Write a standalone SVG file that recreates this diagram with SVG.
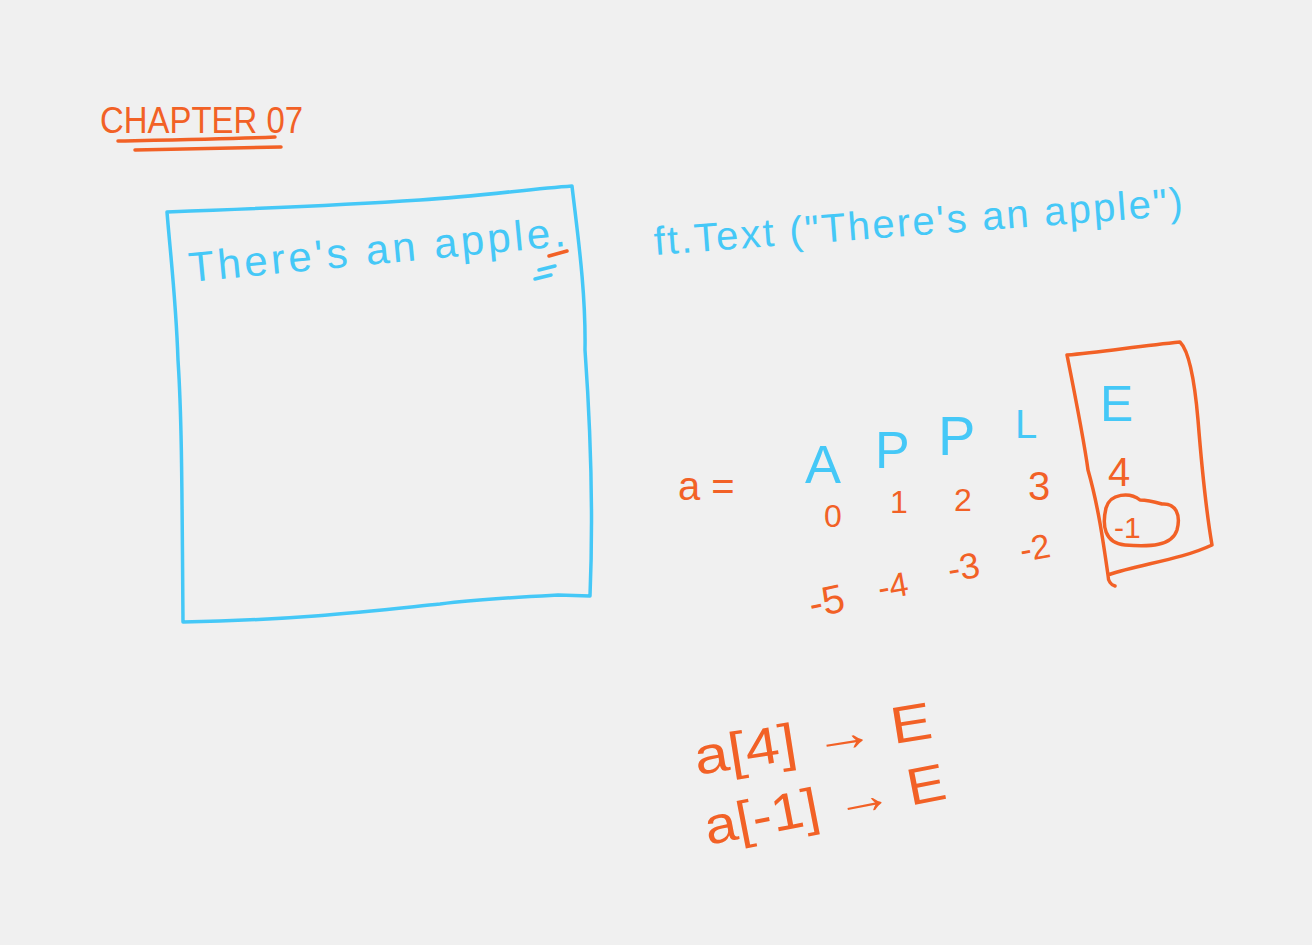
<svg xmlns="http://www.w3.org/2000/svg" width="1312" height="945" viewBox="0 0 1312 945">
<style>
.o{fill:#f26126}
.b{fill:#45c8f7}
.t{font-family:"Liberation Sans","DejaVu Sans",sans-serif}
.so{fill:none;stroke:#f26126;stroke-width:3.5;stroke-linecap:round;stroke-linejoin:round}
.sb{fill:none;stroke:#45c8f7;stroke-width:3.5;stroke-linecap:round;stroke-linejoin:round}
</style>
<rect width="1312" height="945" fill="#f0f0f0"/>
<g id="title">
<text class="t o" x="100" y="133" font-size="36" textLength="203" lengthAdjust="spacingAndGlyphs">CHAPTER 07</text>
<path class="so" d="M118,141 C170,140 230,139 275,137"/>
<path class="so" d="M135,150 C190,149 240,148 281,147"/>
</g>
<g id="window">
<path class="sb" d="M167,212 C250,209 330,206 420,200 C480,196 530,189 572,186 C577,230 586,290 585,350 C590,420 594,500 590,596 L558,595 C520,597 480,599 440,604 C380,610 300,620 183,622 C182,500 182,420 178,360 C176,300 170,250 167,212 Z"/>
<text class="t b" x="190" y="282" font-size="42" textLength="378" lengthAdjust="spacing" transform="rotate(-5.5 190 282)">There's an apple.</text>
<path class="so" d="M549,256 L567,251"/>
<path class="sb" d="M539,270 L555,266 M535,279 L551,275"/>
</g>
<g id="code">
<text class="t b" x="655" y="255" font-size="40" textLength="530" lengthAdjust="spacing" transform="rotate(-4.3 655 255)">ft.Text ("There's an apple")</text>
</g>
<g id="array">
<text class="t o" x="678" y="500" font-size="40">a =</text>
<text class="t b" x="805" y="483" font-size="54">A</text>
<text class="t b" x="875" y="468" font-size="52">P</text>
<text class="t b" x="938" y="455" font-size="56">P</text>
<text class="t b" x="1015" y="438" font-size="40">L</text>
<text class="t b" x="1100" y="421" font-size="50">E</text>
<text class="t o" x="824" y="527" font-size="32">0</text>
<text class="t o" x="890" y="513" font-size="32">1</text>
<text class="t o" x="954" y="511" font-size="32">2</text>
<text class="t o" x="1028" y="500" font-size="40">3</text>
<text class="t o" x="1108" y="486" font-size="40">4</text>
<text class="t o" x="812" y="618" font-size="40" transform="rotate(-12 812 618)">-5</text>
<text class="t o" x="880" y="600" font-size="34" transform="rotate(-10 880 600)">-4</text>
<text class="t o" x="950" y="582" font-size="36" transform="rotate(-10 950 582)">-3</text>
<text class="t o" x="1022" y="562" font-size="34" transform="rotate(-10 1022 562)">-2</text>
</g>
<g id="highlight">
<path class="so" d="M1067,355 C1100,352 1140,346 1180,342 C1190,352 1195,385 1198,420 C1202,470 1206,510 1212,545 C1180,560 1140,564 1108,575 C1103,540 1098,505 1088,470 C1084,440 1076,400 1067,355 Z M1108,575 C1108,581 1111,585 1115,586"/>
<text class="t o" x="1114" y="538" font-size="30">-1</text>
<path class="so" d="M1140,500 C1130,492 1110,493 1106,508 C1102,525 1104,543 1125,545 C1150,547 1172,546 1177,530 C1181,515 1176,503 1162,504 C1155,502 1145,500 1140,500"/>
</g>
<g id="examples">
<text class="t o" x="697" y="775" font-size="52" textLength="240" lengthAdjust="spacingAndGlyphs" transform="rotate(-9 697 775)">a[4] → E</text>
<text class="t o" x="708" y="845" font-size="52" textLength="245" lengthAdjust="spacingAndGlyphs" transform="rotate(-11 708 845)">a[-1] → E</text>
</g>
</svg>
